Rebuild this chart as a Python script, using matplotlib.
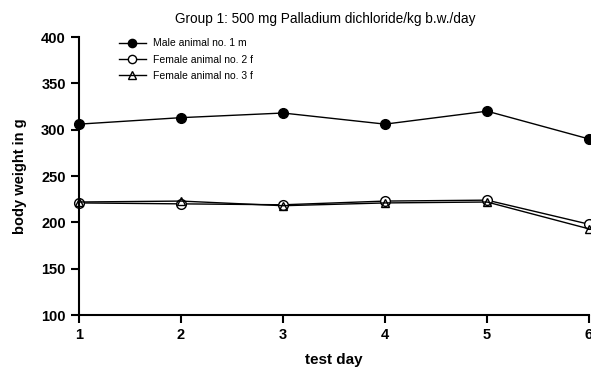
import numpy as np
import matplotlib.pyplot as plt

plt.rcParams['font.family'] = ['Liberation Sans', 'DejaVu Sans']

days = [1, 2, 3, 4, 5, 6]
male_1 = [306, 313, 318, 306, 320, 290]
female_2 = [221, 220, 219, 223, 224, 198]
female_3 = [222, 223, 218, 221, 222, 193]

fig = plt.figure(figsize=(5.91, 3.72), dpi=100)
ax = fig.add_axes([0.1337, 0.153, 0.863, 0.7475])

ax.plot(days, male_1, color='black', lw=1, marker='o', ms=7,
        mfc='black', mec='black', label='Male animal no. 1 m', clip_on=False)
ax.plot(days, female_2, color='black', lw=1, marker='o', ms=7,
        mfc='white', mec='black', label='Female animal no. 2 f', clip_on=False)
ax.plot(days, female_3, color='black', lw=1, marker='^', ms=6,
        mfc='none', mec='black', label='Female animal no. 3 f', clip_on=False)

ax.set_xlim(1, 6)
ax.set_ylim(100, 400)
ax.set_xticks(days)
ax.set_yticks([100, 150, 200, 250, 300, 350, 400])
ax.spines['top'].set_visible(False)
ax.spines['right'].set_visible(False)
ax.spines['left'].set_linewidth(1.5)
ax.spines['bottom'].set_linewidth(1.5)
ax.tick_params(direction='out', length=6, width=1.5, labelsize=10.5)
for lbl in ax.get_xticklabels() + ax.get_yticklabels():
    lbl.set_fontweight('bold')

ax.set_xlabel('test day', fontsize=11, fontweight='bold', labelpad=8)
ax.set_ylabel('body weight in g', fontsize=10.5, fontweight='bold', labelpad=10)
fig.text(0.55, 0.948, 'Group 1: 500 mg Palladium dichloride/kg b.w./day',
         ha='center', va='center', fontsize=9.8)

ax.legend(loc='upper left', bbox_to_anchor=(0.07, 1.01), frameon=False,
          fontsize=7.5, handlelength=2.6, labelspacing=0.6, handletextpad=0.7,
          markerscale=0.85, borderaxespad=0)

fig.savefig('out.png', dpi=100)
